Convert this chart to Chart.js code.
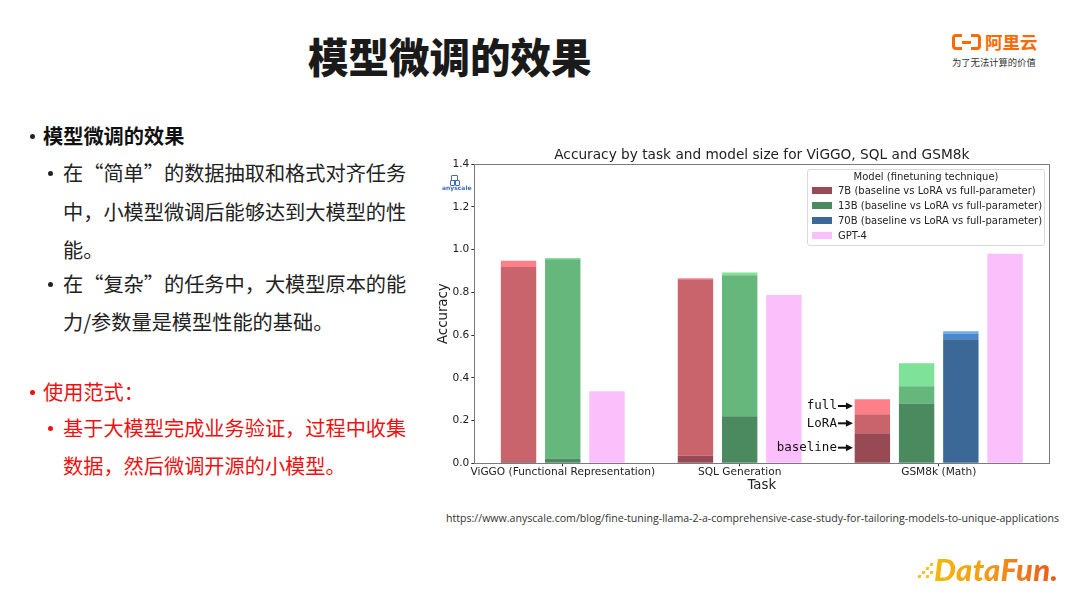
<!DOCTYPE html>
<html lang="zh">
<head>
<meta charset="utf-8">
<title>模型微调的效果</title>
<script src="https://cdn.jsdelivr.net/npm/chart.js@4.4.1/dist/chart.umd.min.js"></script>
<style>
  html, body { margin: 0; padding: 0; background: #fff; }
  body { position: relative; width: 1080px; height: 608px; overflow: hidden;
         font-family: "Noto Sans CJK SC", "Noto Sans", sans-serif; }
  .abs { position: absolute; white-space: nowrap; }
  .page-title { left: 308px; top: 28px; font-size: 40.5px; line-height: 56px; font-weight: 900; color: #1a1a1a; }
  .line { font-size: 20.2px; line-height: 26px; color: #222; }
  .line.red { color: #f01010; }
  .dot { position: absolute; width: 5px; height: 5px; border-radius: 50%; background: #222; }
  .dot.red { background: #f01010; }
  .chart-box { position: absolute; left: 430px; top: 140px; width: 630px; height: 360px; }
  #legend { left: 807px; top: 169px; width: 236px; height: 75px; border: 1px solid #d9d9d9; border-radius: 3px;
            background: rgba(255,255,255,0.8); font-family: "DejaVu Sans", sans-serif; font-size: 10px; color: #222; }
  #legend .lg-title { position: absolute; left: 0; right: 0; top: 0; text-align: center; line-height: 14px; }
  #legend .lg-row { position: absolute; left: 4px; height: 14px; line-height: 14px; }
  #legend .sw { display: inline-block; width: 20px; height: 7px; vertical-align: middle; margin-right: 6px; margin-top: -2px; }
  .url { left: 446px; top: 510px; font-family: "Open Sans", sans-serif; font-size: 10.6px; line-height: 16px; color: #333; }
  .any-text { left: 442px; top: 184px; font-family: "DejaVu Sans", sans-serif; font-size: 6px; font-weight: bold; color: #3a6cc4; }
  .any-icon { position: absolute; width: 5px; height: 4px; border: 1px solid #3a6cc4; border-radius: 1px; }
  .ali-icon { left: 952px; top: 34px; width: 23px; height: 10px; border: 3.5px solid #ff6a00; border-radius: 4px; }
  .ali-gap { position: absolute; left: 7px; width: 9px; height: 4px; background: #fff; }
  .ali-dash { position: absolute; left: 7px; top: 3.5px; width: 9px; height: 3px; background: #ff6a00; }
  .ali-name { left: 985px; top: 29px; font-size: 17.5px; line-height: 26px; font-weight: bold; color: #ff6a00; }
  .ali-sub { left: 952px; top: 55px; font-size: 9.3px; line-height: 14px; color: #333; }
  .df-text { left: 934px; top: 549px; font-family: Lato, "Open Sans", sans-serif; font-style: italic; font-weight: 900;
             font-size: 31px; line-height: 40px; letter-spacing: 0.3px;
             background: linear-gradient(90deg, #f5b90a, #f29a1a 45%, #e9561f);
             -webkit-background-clip: text; background-clip: text; color: transparent; }
  .df-sq { position: absolute; width: 3px; height: 3px; background: #f6c021; transform: skewX(-15deg); }
</style>
</head>
<body>

<div class="abs page-title">模型微调的效果</div>

<!-- left bullets -->
<div class="dot" style="left:30px; top:134px;"></div>
<div class="abs line" style="left:43px; top:123px; font-weight:bold; color:#111;">模型微调的效果</div>
<div class="dot" style="left:48px; top:171px;"></div>
<div class="abs line" style="left:63px; top:160px;">在“简单”的数据抽取和格式对齐任务</div>
<div class="abs line" style="left:63px; top:199px;">中，小模型微调后能够达到大模型的性</div>
<div class="abs line" style="left:63px; top:237px;">能。</div>
<div class="dot" style="left:48px; top:282px;"></div>
<div class="abs line" style="left:63px; top:271px;">在“复杂”的任务中，大模型原本的能</div>
<div class="abs line" style="left:63px; top:309px;">力/参数量是模型性能的基础。</div>

<div class="dot red" style="left:30px; top:390px;"></div>
<div class="abs line red" style="left:43px; top:379px;">使用范式：</div>
<div class="dot red" style="left:48px; top:426px;"></div>
<div class="abs line red" style="left:63px; top:415px;">基于大模型完成业务验证，过程中收集</div>
<div class="abs line red" style="left:63px; top:453px;">数据，然后微调开源的小模型。</div>

<!-- Aliyun logo -->
<div class="abs ali-icon"><div class="ali-gap" style="top:-3.5px"></div><div class="ali-gap" style="bottom:-3.5px"></div><div class="ali-dash"></div></div>
<div class="abs ali-name">阿里云</div>
<div class="abs ali-sub">为了无法计算的价值</div>

<!-- chart -->
<div class="chart-box"><canvas id="accChart"></canvas></div>
<div id="legend" class="abs"></div>

<!-- anyscale mark -->
<div class="any-icon" style="left:451px; top:175px;"></div>
<div class="any-icon" style="left:450px; top:180px; width:3px;"></div>
<div class="any-icon" style="left:455px; top:180px; width:3px;"></div>
<div class="abs any-text">anyscale</div>

<div class="abs url">https://www.anyscale.com/blog/fine-tuning-llama-2-a-comprehensive-case-study-for-tailoring-models-to-unique-applications</div>

<!-- DataFun logo -->
<div class="df-sq" style="left:922px; top:571px;"></div>
<div class="df-sq" style="left:926px; top:567px;"></div>
<div class="df-sq" style="left:926px; top:575px;"></div>
<div class="df-sq" style="left:930px; top:563px;"></div>
<div class="df-sq" style="left:930px; top:571px;"></div>
<div class="df-sq" style="left:918px; top:575px;"></div>
<div class="abs df-text">DataFun.</div>

<script>
// ---- data ----
const tasks = ['ViGGO (Functional Representation)', 'SQL Generation', 'GSM8k (Math)'];

const baseline7B = [0.01, 0.035, 0.14];
const lora7B     = [0.918, 0.861, 0.23];
const full7B     = [0.947, 0.866, 0.30];

const baseline13B = [0.023, 0.22, 0.28];
const lora13B     = [0.955, 0.88, 0.36];
const full13B     = [0.96, 0.893, 0.468];

const baseline70B = [null, null, 0.58];
const lora70B     = [null, null, 0.607];
const full70B     = [null, null, 0.618];

const gpt4 = [0.337, 0.787, 0.98];

const yTicks = [0, 0.2, 0.4, 0.6, 0.8, 1.0, 1.2, 1.4];

// annotation labels on the GSM8k 7B bar
const noteLabels = ['full', 'LoRA', 'baseline'];
const noteValues = [0.268, 0.187, 0.073];

// ---- styling ----
const plotFont = 'DejaVu Sans, sans-serif';
const palette = {
    '7B':  ['#984a54', '#c9646c', '#ff7f88'],
    '13B': ['#4b8a5f', '#66b77b', '#7ee299'],
    '70B': ['#3c6898', '#4a88ce', '#6aaeea'],
    'GPT-4': '#fbbffc'
};

const modelRuns = [
    { key: '7B',  label: '7B (baseline vs LoRA vs full-parameter)',  baseline: baseline7B,  lora: lora7B,  full: full7B },
    { key: '13B', label: '13B (baseline vs LoRA vs full-parameter)', baseline: baseline13B, lora: lora13B, full: full13B },
    { key: '70B', label: '70B (baseline vs LoRA vs full-parameter)', baseline: baseline70B, lora: lora70B, full: full70B }
];

// Bars sit side by side in slots; a task skips models it has no value for,
// and one empty slot separates tasks.
const slotOf = {};
const taskTicks = [];
let slot = 0;
tasks.forEach((task, ti) => {
    const used = [];
    modelRuns.forEach(run => {
        if (run.full[ti] !== null) { slotOf[run.key + ':' + ti] = slot; used.push(slot); slot++; }
    });
    slotOf['GPT-4:' + ti] = slot; used.push(slot); slot++;
    taskTicks.push(used.reduce((a, b) => a + b, 0) / used.length);
    slot++;
});

const datasets = [];
modelRuns.forEach(run => {
    const layers = [
        ti => [0, run.baseline[ti]],
        ti => [run.baseline[ti], run.lora[ti]],
        ti => [run.lora[ti], run.full[ti]]
    ];
    layers.forEach((range, li) => {
        datasets.push({
            label: run.label,
            backgroundColor: palette[run.key][li],
            data: tasks.map((_, ti) => run.full[ti] === null ? null : { x: slotOf[run.key + ':' + ti], y: range(ti) })
                       .filter(d => d !== null)
        });
    });
});
datasets.push({
    label: 'GPT-4',
    backgroundColor: palette['GPT-4'],
    data: gpt4.map((v, ti) => ({ x: slotOf['GPT-4:' + ti], y: v }))
});

// title, frame and the baseline/LoRA/full arrows
const axesDecor = {
    id: 'axesDecor',
    afterDatasetsDraw(chart) {
        const { ctx, chartArea: a, scales: { x, y } } = chart;
        ctx.save();
        ctx.strokeStyle = '#7a7a7a';
        ctx.lineWidth = 1;
        ctx.strokeRect(Math.round(a.left) + 0.5, Math.round(a.top) + 0.5,
                       Math.round(a.right - a.left), Math.round(a.bottom - a.top));

        ctx.fillStyle = '#222';
        ctx.font = '13.7px ' + plotFont;
        ctx.textAlign = 'center';
        ctx.textBaseline = 'middle';
        ctx.fillText('Accuracy by task and model size for ViGGO, SQL and GSM8k', (a.left + a.right) / 2, a.top - 9);

        const tipX = x.getPixelForValue(slotOf['7B:2'] - 0.44);
        ctx.font = '12.5px DejaVu Sans Mono, monospace';
        ctx.textAlign = 'right';
        noteLabels.forEach((txt, i) => {
            const py = y.getPixelForValue(noteValues[i]);
            ctx.fillStyle = '#111';
            ctx.fillText(txt, tipX - 16, py);
            ctx.strokeStyle = '#111';
            ctx.lineWidth = 2;
            ctx.beginPath();
            ctx.moveTo(tipX - 15, py);
            ctx.lineTo(tipX - 6, py);
            ctx.stroke();
            ctx.beginPath();
            ctx.moveTo(tipX, py);
            ctx.lineTo(tipX - 7, py - 3.5);
            ctx.lineTo(tipX - 7, py + 3.5);
            ctx.closePath();
            ctx.fill();
        });
        ctx.restore();
    }
};

const tickFont = { family: plotFont, size: 10.6 };
const labelFont = { family: plotFont, size: 13.3 };

new Chart(document.getElementById('accChart'), {
    type: 'bar',
    data: { datasets },
    options: {
        responsive: true,
        maintainAspectRatio: false,
        animation: false,
        layout: { padding: { top: 24, right: 10.7, bottom: 0, left: 0 } },
        datasets: { bar: { grouped: false, categoryPercentage: 1, barPercentage: 0.8 } },
        plugins: { legend: { display: false }, title: { display: false }, tooltip: { enabled: false } },
        scales: {
            x: {
                type: 'linear', min: -1, max: 12, offset: false,
                grid: { offset: false, drawOnChartArea: false, drawTicks: true, tickLength: 3, tickColor: '#333' },
                border: { display: false },
                afterBuildTicks: s => { s.ticks = taskTicks.map(v => ({ value: v })); },
                afterFit: s => { s.height = 36.7; },
                ticks: { callback: (v, i) => tasks[i], padding: 0, maxRotation: 0, autoSkip: false, font: tickFont, color: '#222' },
                title: { display: true, text: 'Task', font: labelFont, color: '#222', padding: { top: 0, bottom: 6 } }
            },
            y: {
                min: 0, max: 1.4,
                grid: { drawOnChartArea: false, drawTicks: true, tickLength: 3, tickColor: '#333' },
                border: { display: false },
                afterBuildTicks: s => { s.ticks = yTicks.map(v => ({ value: v })); },
                afterFit: s => { s.width = 44.3; },
                ticks: { callback: v => v.toFixed(1), padding: 2, font: tickFont, color: '#222' },
                title: { display: true, text: 'Accuracy', font: labelFont, color: '#222', padding: { top: 6, bottom: 0 } }
            }
        }
    },
    plugins: [axesDecor]
});

// legend inside the plot, upper right
const legendEl = document.getElementById('legend');
const legendItems = modelRuns.map(r => ({ text: r.label, color: palette[r.key][0] }))
    .concat([{ text: 'GPT-4', color: palette['GPT-4'] }]);
legendEl.innerHTML = '<div class="lg-title">Model (finetuning technique)</div>' +
    legendItems.map((it, i) =>
        `<div class="lg-row" style="top:${14 + i * 15}px"><span class="sw" style="background:${it.color}"></span>${it.text}</div>`
    ).join('');
</script>
</body>
</html>
